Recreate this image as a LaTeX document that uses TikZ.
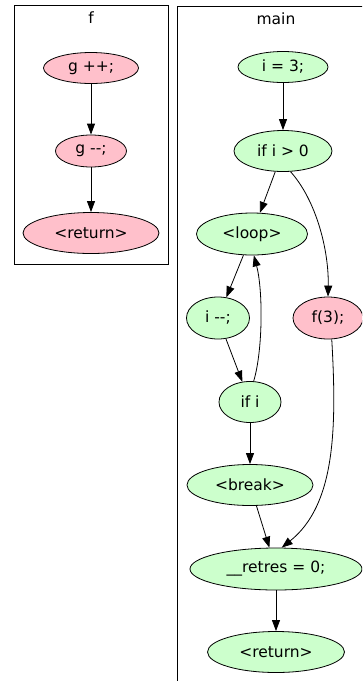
\documentclass[tikz,border=0pt]{standalone}
\usepackage{fontspec}
\setmainfont{DejaVu Sans}
\usetikzlibrary{arrows.meta,shapes.geometric}
\definecolor{pinkfill}{RGB}{255,192,203}
\definecolor{greenfill}{RGB}{204,255,204}
\tikzset{
  blk/.style={draw=black, line width=0.8pt, ellipse, inner sep=0pt, font=\fontsize{15.5}{17}\selectfont},
  pnode/.style={blk, fill=pinkfill},
  gnode/.style={blk, fill=greenfill},
  edge/.style={draw=black, line width=0.8pt, -{Triangle[length=11pt,width=8pt]}},
  clusterbox/.style={draw=black, line width=0.8pt},
  ctitle/.style={font=\fontsize{15.5}{17}\selectfont, inner sep=0pt}
}
\begin{document}
\begin{tikzpicture}[x=1pt,y=-1pt]
\useasboundingbox (0,0) rectangle (362,681);
\clip (0,0) rectangle (362,681);
% clusters
\draw[clusterbox] (14,5) rectangle (168,264);
\node[ctitle] (ftitle) at (91,18) {f};
\draw[clusterbox] (177,6) rectangle (370,690);
\node[ctitle] (mtitle) at (276,19) {main};
% f nodes
\node[pnode, minimum width=95pt, minimum height=31pt] (g1) at (91,68) {g ++;};
\node[pnode, minimum width=71pt, minimum height=32pt] (g2) at (91,151) {g -{}-;};
\node[pnode, minimum width=136pt, minimum height=41pt] (fret) at (91,233) {<return>};
% main nodes
\node[gnode, minimum width=90pt, minimum height=31pt] (i3) at (283,67) {i = 3;};
\node[gnode, minimum width=98pt, minimum height=41pt] (if0) at (283,151) {if i > 0};
\node[gnode, minimum width=111pt, minimum height=42pt] (loop) at (252,234) {<loop>};
\node[gnode, minimum width=63pt, minimum height=42pt] (idec) at (218,318) {i -{}-;};
\node[pnode, minimum width=70pt, minimum height=42pt] (f3) at (328,318) {f(3);};
\node[gnode, minimum width=62pt, minimum height=41pt] (ifi) at (250,402) {if i};
\node[gnode, minimum width=126pt, minimum height=41pt] (brk) at (250,485) {<break>};
\node[gnode, minimum width=172pt, minimum height=42pt] (ret0) at (276,569) {\_\_retres = 0;};
\node[gnode, minimum width=137pt, minimum height=41pt] (mret) at (276,652) {<return>};
% edges
\draw[edge] (g1) -- (g2);
\draw[edge] (g2) -- (fret);
\draw[edge] (i3) -- (if0);
\draw[edge] (if0) -- (loop);
\draw[edge] (if0.-70) .. controls (316,200) and (329,250) .. (f3.north);
\draw[edge] (loop) -- (idec);
\draw[edge] (idec) -- (ifi);
\draw[edge] (ifi.80) .. controls (263,350) and (263,290) .. (loop.-85);
\draw[edge] (ifi) -- (brk);
\draw[edge] (brk) -- (ret0);
\draw[edge] (f3.-80) .. controls (337,430) and (335,505) .. (ret0.75);
\draw[edge] (ret0) -- (mret);
\end{tikzpicture}
\end{document}
